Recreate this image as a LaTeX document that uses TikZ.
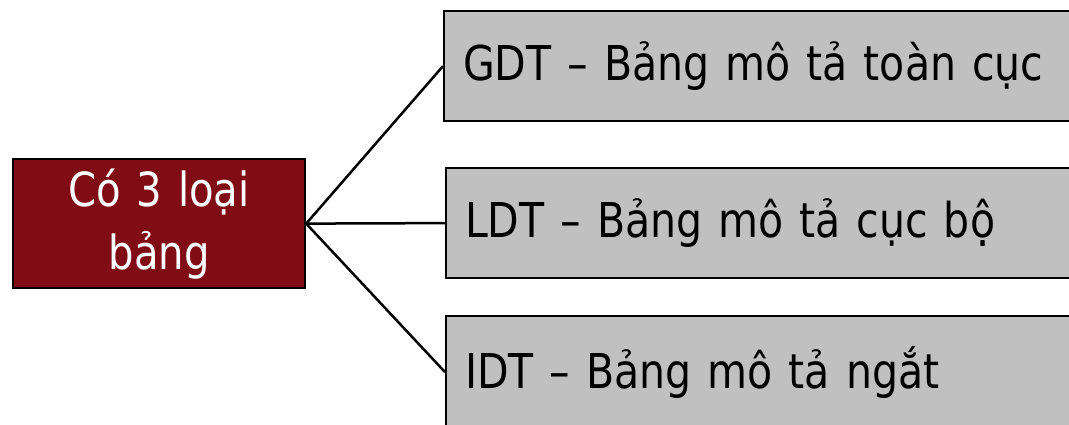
\documentclass[tikz,border=0pt]{standalone}
\usepackage{fontspec}
\setmainfont[FakeStretch=0.855,WordSpace=0.6]{DejaVu Sans}
\definecolor{darkred}{HTML}{800D16}
\definecolor{boxgray}{HTML}{C0C0C0}
\begin{document}
\begin{tikzpicture}[x=1pt,y=-1pt,
  graybox/.style={draw=black, line width=2.2pt, fill=boxgray, anchor=north west,
    text width=800pt, align=left, inner xsep=19pt,
    font=\fontsize{48}{60}\selectfont, text=black},
  redbox/.style={draw=black, line width=2.2pt, fill=darkred, anchor=north west,
    minimum width=292pt, minimum height=129pt, text width=280pt, align=center,
    font=\fontsize{47}{63}\selectfont, text=white, inner sep=0pt},
  link/.style={draw=black, line width=2.5pt}]
\useasboundingbox (0,0) rectangle (1069,424);
\clip (0,0) rectangle (1069,424);
\node[redbox] (L) at (12,158) {Có 3 loại\\bảng};
\node[graybox, minimum height=110pt] (b1) at (443,10) {GDT – Bảng mô tả toàn cục};
\node[graybox, minimum height=110pt] (b2) at (445,167) {LDT – Bảng mô tả cục bộ};
\node[graybox, minimum height=112pt] (b3) at (445,315) {IDT – Bảng mô tả ngắt};
\draw[link] (L.east) -- (b1.west);
\draw[link] (L.east) -- (b2.west);
\draw[link] (L.east) -- (b3.west);
\end{tikzpicture}
\end{document}
